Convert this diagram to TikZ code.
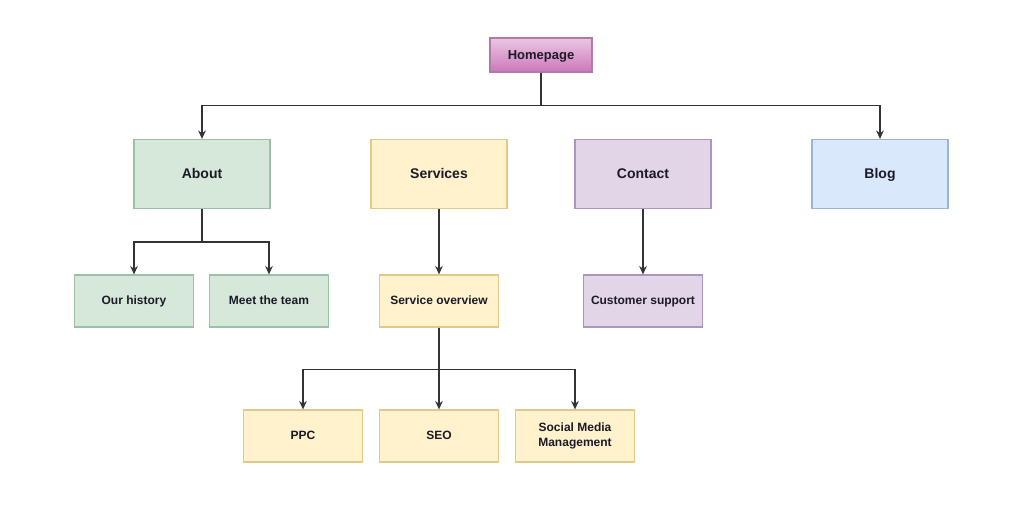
\documentclass[tikz,border=0pt]{standalone}
\usepackage{fontspec}
\setmainfont{Liberation Sans}
\usetikzlibrary{arrows.meta}

\definecolor{aboutfill}{HTML}{D5E8D9}
\definecolor{aboutline}{HTML}{9DBFA6}
\definecolor{servfill}{HTML}{FFF2CC}
\definecolor{servline}{HTML}{E0C98A}
\definecolor{contfill}{HTML}{E1D5E7}
\definecolor{contline}{HTML}{AE95BE}
\definecolor{blogfill}{HTML}{DAE8FC}
\definecolor{blogline}{HTML}{9DB3D6}
\definecolor{hometop}{HTML}{EBC6E2}
\definecolor{homebot}{HTML}{CC78BA}
\definecolor{homeline}{HTML}{B07AA6}
\definecolor{wire}{HTML}{333333}
\definecolor{ink}{HTML}{1C1A28}

\tikzset{
  page/.style={draw=#1line, fill=#1fill, line width=0.6pt, text=ink,
    font=\bfseries\fontsize{7}{8.4}\selectfont,
    text height=5pt, text depth=0.7pt,
    minimum width=68pt, minimum height=34.5pt, inner sep=0pt},
  subpage/.style={page=#1, font=\bfseries\fontsize{6}{7.5}\selectfont,
    text height=4.3pt, text depth=0.6pt,
    minimum width=59.5pt, minimum height=26pt},
  link/.style={draw=wire, line width=0.8pt,
    -{Stealth[length=4.2pt, width=3.8pt]}}
}

\begin{document}
\begin{tikzpicture}[x=0.5pt, y=-0.5pt]
    \useasboundingbox[fill=white] (0,0) rectangle (1024,512);

    % top
    \node[draw=homeline, line width=0.6pt, top color=hometop, bottom color=homebot,
      text=ink, font=\bfseries\fontsize{6.5}{8}\selectfont,
      text height=4.7pt, text depth=0.65pt,
      minimum width=51pt, minimum height=17pt, inner sep=0pt] (home) at (541,55) {Homepage};

    % main sections
    \node[page=about] (about) at (202,174) {About};
    \node[page=serv] (services) at (439,174) {Services};
    \node[page=cont] (contact) at (643,174) {Contact};
    \node[page=blog] (blog) at (880,174) {Blog};

    % second level
    \node[subpage=about] (history) at (134,301) {Our history};
    \node[subpage=about] (team) at (269,301) {Meet the team};
    \node[subpage=serv] (overview) at (439,301) {Service overview};
    \node[subpage=cont] (support) at (643,301) {Customer support};

    % third level
    \node[subpage=serv] (ppc) at (303,436) {PPC};
    \node[subpage=serv] (seo) at (439,436) {SEO};
    \node[subpage=serv, align=center, text height=, text depth=] (social) at (575,436) {Social Media\\Management};

    \draw[link] (home.south) -- ++(0,33) -| (about.north);
    \draw[link] (home.south) -- ++(0,33) -| (blog.north);

    \draw[link] (about.south) -- ++(0,33) -| (history.north);
    \draw[link] (about.south) -- ++(0,33) -| (team.north);

    \draw[link] (services.south) -- (overview.north);
    \draw[link] (contact.south) -- (support.north);

    \draw[link] (overview.south) -- ++(0,42) -| (ppc.north);
    \draw[link] (overview.south) -- (seo.north);
    \draw[link] (overview.south) -- ++(0,42) -| (social.north);

\end{tikzpicture}
\end{document}
